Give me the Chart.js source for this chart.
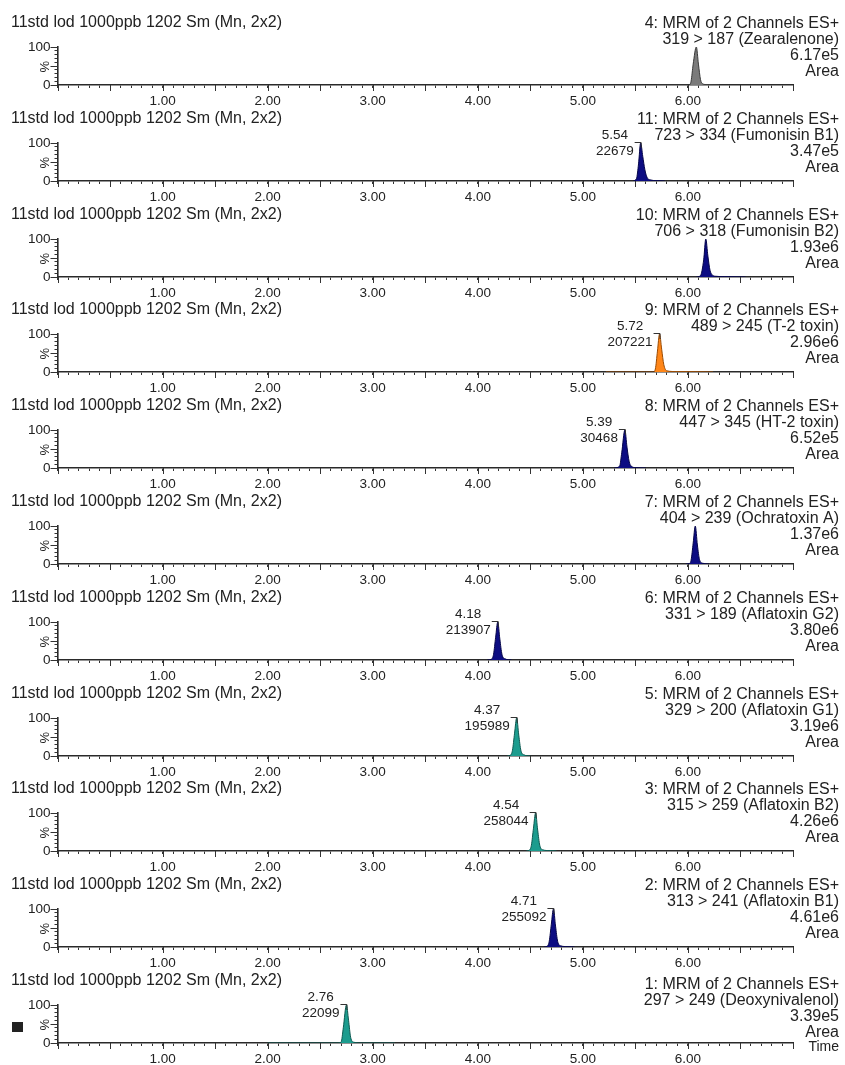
<!DOCTYPE html>
<html>
<head>
<meta charset="utf-8">
<script src="https://cdn.jsdelivr.net/npm/chart.js@4.4.1/dist/chart.umd.min.js"></script>
<style>
body { margin: 0; background: #fff; }
#app { position: relative; width: 845px; height: 1065px; overflow: hidden; }
.panel { position: absolute; left: 0; width: 845px; height: 96px; }
</style>
</head>
<body>
<div id="app"></div>
<script>
// chromatogram panels, top to bottom
var sampleName = '11std lod 1000ppb 1202 Sm (Mn, 2x2)';
var functionNo = [4, 11, 10, 9, 8, 7, 6, 5, 3, 2, 1];
var transitions = ['319 > 187', '723 > 334', '706 > 318', '489 > 245', '447 > 345', '404 > 239',
    '331 > 189', '329 > 200', '315 > 259', '313 > 241', '297 > 249'];
var compounds = ['Zearalenone', 'Fumonisin B1', 'Fumonisin B2', 'T-2 toxin', 'HT-2 toxin', 'Ochratoxin A',
    'Aflatoxin G2', 'Aflatoxin G1', 'Aflatoxin B2', 'Aflatoxin B1', 'Deoxynivalenol'];
var intensities = ['6.17e5', '3.47e5', '1.93e6', '2.96e6', '6.52e5', '1.37e6', '3.80e6', '3.19e6', '4.26e6', '4.61e6', '3.39e5'];
var rtLabels = [null, '5.54', null, '5.72', '5.39', null, '4.18', '4.37', '4.54', '4.71', '2.76'];
var areaLabels = [null, '22679', null, '207221', '30468', null, '213907', '195989', '258044', '255092', '22099'];
var peakColors = ['gray', 'navy', 'navy', 'orange', 'navy', 'navy', 'navy', 'teal', 'teal', 'navy', 'teal'];
var timeLabels = [1, 2, 3, 4, 5, 6];

// retention time (min) / relative intensity (%) for each trace
var peakTimes = [
    [5.70, 6.01, 6.03, 6.05, 6.08, 6.10, 6.12, 6.14, 6.18, 6.30],
    [5.48, 5.51, 5.53, 5.55, 5.57, 5.59, 5.61, 5.64, 5.70, 5.78],
    [6.08, 6.12, 6.15, 6.17, 6.19, 6.21, 6.23, 6.26, 6.35, 6.55],
    [5.22, 5.67, 5.69, 5.71, 5.73, 5.75, 5.77, 5.80, 5.90, 6.24],
    [5.30, 5.35, 5.37, 5.40, 5.42, 5.44, 5.46, 5.50, 5.60],
    [5.98, 6.01, 6.03, 6.05, 6.07, 6.09, 6.11, 6.14, 6.20],
    [4.09, 4.13, 4.15, 4.17, 4.19, 4.21, 4.23, 4.26, 4.32],
    [4.28, 4.31, 4.33, 4.35, 4.37, 4.39, 4.41, 4.44, 4.50],
    [4.46, 4.49, 4.51, 4.53, 4.55, 4.57, 4.59, 4.62, 4.68, 4.75],
    [4.63, 4.66, 4.68, 4.70, 4.72, 4.74, 4.76, 4.79, 4.85, 4.92],
    [2.00, 2.67, 2.70, 2.72, 2.75, 2.77, 2.79, 2.82, 2.90, 3.21]
];
var peakHeights = [
    [0, 0, 10, 55, 100, 55, 14, 3, 1, 0],
    [0, 6, 45, 100, 65, 30, 10, 3, 1, 0],
    [0, 4, 45, 100, 55, 18, 6, 2, 1, 0],
    [0, 0, 8, 55, 100, 60, 20, 3, 1, 0],
    [0, 5, 40, 100, 55, 18, 5, 1, 0],
    [0, 1, 10, 55, 100, 50, 12, 2, 0],
    [0, 2, 15, 60, 100, 55, 15, 3, 0],
    [0, 2, 15, 60, 100, 55, 15, 3, 0],
    [0, 2, 15, 60, 100, 55, 15, 3, 1, 0],
    [0, 2, 15, 60, 100, 55, 15, 3, 1, 0],
    [0, 0, 3, 40, 100, 60, 15, 2, 0, 0]
];

var fills = { gray: '#7b7b7b', navy: '#0c0c82', teal: '#1c9c8e', orange: '#ff8618' };
var edges = { gray: '#3a3a3a', navy: '#06064a', teal: '#0d5a52', orange: '#9a4a00' };
var FONT = '"Liberation Sans", Arial, sans-serif';
var INK = '#222';

function decorPlugin(i) {
    return {
        id: 'decor' + i,
        afterDraw: function (chart) {
            var ctx = chart.ctx;
            var x = chart.scales.x, y = chart.scales.y;
            var base = y.getPixelForValue(0);
            ctx.save();
            ctx.fillStyle = INK;
            ctx.strokeStyle = '#333';
            ctx.lineWidth = 1;

            // longer ticks at half minutes
            x.ticks.forEach(function (t) {
                var v = t.value * 2;
                if (Math.abs(v - Math.round(v)) < 1e-6) {
                    var px = Math.round(x.getPixelForValue(t.value)) + 0.5;
                    ctx.beginPath(); ctx.moveTo(px, base); ctx.lineTo(px, base + 6); ctx.stroke();
                }
            });
            [0, 50, 100].forEach(function (v) {
                var py = Math.round(y.getPixelForValue(v)) + 0.5;
                ctx.beginPath(); ctx.moveTo(chart.chartArea.left - 7, py); ctx.lineTo(chart.chartArea.left, py); ctx.stroke();
            });

            ctx.font = '16px ' + FONT;
            ctx.textBaseline = 'middle';
            ctx.textAlign = 'left';
            ctx.fillText(sampleName, 11, base - 62);

            var last = i === compounds.length - 1;
            var off = last ? 3 : 0;
            ctx.textAlign = 'right';
            ctx.fillText(functionNo[i] + ': MRM of 2 Channels ES+', 839, base - 61 + off);
            ctx.fillText(transitions[i] + ' (' + compounds[i] + ')', 839, base - 45 + off);
            ctx.fillText(intensities[i], 839, base - 29 + off);
            ctx.fillText('Area', 839, base - 13 + off);
            if (last) {
                ctx.font = '14px ' + FONT;
                ctx.fillText('Time', 839, base + 4);
                ctx.fillRect(12, base - 21, 11, 10);
            }

            // % axis title
            ctx.save();
            ctx.font = '13px ' + FONT;
            ctx.textAlign = 'center';
            ctx.translate(45, y.getPixelForValue(48));
            ctx.rotate(-Math.PI / 2);
            ctx.fillText('%', 0, 0);
            ctx.restore();

            // retention time / area annotation at the apex
            if (rtLabels[i]) {
                var meta = chart.getDatasetMeta(0);
                var hs = peakHeights[i];
                var k = hs.indexOf(Math.max.apply(null, hs));
                var ax = meta.data[k].x, ay = meta.data[k].y;
                ctx.font = '13.5px ' + FONT;
                var w = ctx.measureText(areaLabels[i]).width;
                var right = ax - 7;
                ctx.textAlign = 'center';
                ctx.fillText(rtLabels[i], right - w / 2, ay - 8);
                ctx.fillText(areaLabels[i], right - w / 2, ay + 8);
                ctx.beginPath();
                ctx.moveTo(right + 1, Math.round(ay) - 0.5);
                ctx.lineTo(ax + 0.5, Math.round(ay) - 0.5);
                ctx.lineTo(ax + 0.5, ay + 5);
                ctx.stroke();
            }
            ctx.restore();
        }
    };
}

function makePanel(i) {
    var div = document.createElement('div');
    div.className = 'panel';
    div.style.top = (13 + i * 95.8) + 'px';
    var cv = document.createElement('canvas');
    div.appendChild(cv);
    document.getElementById('app').appendChild(div);

    var pts = peakTimes[i].map(function (t, j) { return { x: t, y: peakHeights[i][j] }; });
    var c = peakColors[i];

    new Chart(cv, {
        type: 'line',
        data: {
            datasets: [{
                data: pts,
                borderColor: edges[c],
                backgroundColor: fills[c],
                borderWidth: 1,
                fill: 'origin',
                pointRadius: 0,
                cubicInterpolationMode: 'monotone'
            }]
        },
        options: {
            responsive: true,
            maintainAspectRatio: false,
            animation: false,
            layout: { padding: { left: 0, right: 52, top: 34, bottom: 0 } },
            plugins: { legend: { display: false }, tooltip: { enabled: false }, title: { display: false } },
            scales: {
                x: {
                    type: 'linear', min: 0, max: 7,
                    border: { display: true, color: '#2a2a2a', width: 1.6 },
                    grid: { display: true, drawOnChartArea: false, tickLength: 3, color: '#333', lineWidth: 1 },
                    ticks: {
                        stepSize: 0.1, autoSkip: false, maxRotation: 0, padding: 5,
                        color: INK, font: { family: FONT, size: 13.5 },
                        callback: function (v) {
                            var n = Math.round(v);
                            return (Math.abs(v - n) < 1e-6 && timeLabels.indexOf(n) >= 0) ? n.toFixed(2) : '';
                        }
                    },
                    afterFit: function (s) { s.height = 24; }
                },
                y: {
                    min: 0, max: 100,
                    border: { display: true, color: '#2a2a2a', width: 1.6 },
                    grid: { display: true, drawOnChartArea: false, tickLength: 3, color: '#333', lineWidth: 1 },
                    ticks: {
                        stepSize: 10, autoSkip: false, padding: 4,
                        color: INK, font: { family: FONT, size: 13.5 },
                        callback: function (v) { return (v === 0 || v === 100) ? String(v) : ''; }
                    },
                    afterFit: function (s) { s.width = 57.5; }
                }
            }
        },
        plugins: [decorPlugin(i)]
    });
}

for (var i = 0; i < compounds.length; i++) makePanel(i);
</script>
</body>
</html>
